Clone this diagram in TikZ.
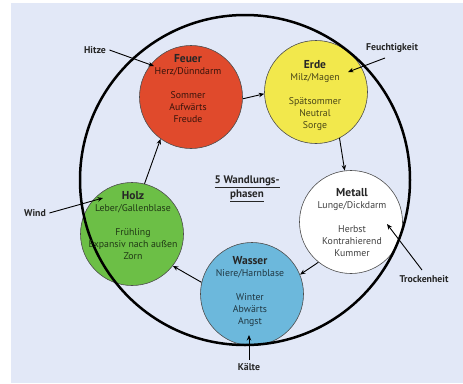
\documentclass[tikz,border=0pt]{standalone}
\usepackage{fontspec}
\setmainfont{PT Sans}
\usetikzlibrary{arrows.meta}
\definecolor{bgc}{HTML}{E2E8F7}
\definecolor{feuerc}{HTML}{E04A2C}
\definecolor{erdec}{HTML}{F2E84C}
\definecolor{wasserc}{HTML}{6CB8DC}
\definecolor{holzc}{HTML}{6CBF46}
\newcommand{\phasetitle}[1]{{\bfseries\fontsize{11.5}{12}\selectfont\color{black!85}#1}}
\begin{document}
\begin{tikzpicture}[x=1pt,y=-1pt,
  phase/.style={circle,draw=black!70,line width=0.6pt,minimum size=103pt,inner sep=0pt},
  ptext/.style={align=center,font=\fontsize{9.8}{12}\selectfont},
  lbl/.style={font=\bfseries\fontsize{9.8}{10}\selectfont,text=black!85},
  arr/.style={line width=0.9pt,-{Stealth[length=5.5pt,width=4.5pt]}}]
\useasboundingbox (0,0) rectangle (463,383);
\fill[bgc] (11,3) rectangle (463,383);
% phase circles
\node[phase,fill=feuerc] (feuer) at (191,97) {};
\node[phase,fill=erdec] (erde) at (316,92) {};
\node[phase,fill=white] (metall) at (351,222) {};
\node[phase,fill=wasserc] (wasser) at (252,294) {};
\node[phase,fill=holzc] (holz) at (132,234) {};
% big circle
\node[circle,draw=black,line width=2.5pt,minimum size=330pt,inner sep=0pt] (big) at (245,180) {};
% texts
\node[ptext,text=feuerc!25!black] (tfeuer) at (188,89) {\phasetitle{Feuer}\\Herz/Dünndarm\\[12pt]Sommer\\Aufwärts\\Freude};
\node[ptext,text=erdec!30!black] (terde) at (315,96) {\phasetitle{Erde}\\Milz/Magen\\[12pt]Spätsommer\\Neutral\\Sorge};
\node[ptext,text=black!75] (tmetall) at (352,223) {\phasetitle{Metall}\\Lunge/Dickdarm\\[12pt]Herbst\\Kontrahierend\\Kummer};
\node[ptext,text=wasserc!30!black] (twasser) at (250,292) {\phasetitle{Wasser}\\Niere/Harnblase\\[12pt]Winter\\Abwärts\\Angst};
\node[ptext,text=holzc!30!black] (tholz) at (133,226) {\phasetitle{Holz}\\Leber/Gallenblase\\[12pt]Frühling\\Expansiv nach außen\\Zorn};
\node[align=center,font=\bfseries\fontsize{11}{14}\selectfont,text=black!85] (center) at (247,189) {\underline{5 Wandlungs-}\\\underline{phasen}};
% cycle arrows
\draw[arr] (feuer.-2) -- (erde.182);
\draw[arr] (erde.-63) -- (metall.97);
\draw[arr] (metall.231) -- (wasser.22);
\draw[arr] (wasser.167) -- (holz.-38);
\draw[arr] (holz.76) -- (feuer.234);
% external influences
\node[lbl] (hitze) at (95,50) {Hitze};
\node[lbl] (feucht) at (392,48) {Feuchtigkeit};
\node[lbl] (trocken) at (424,279) {Trockenheit};
\node[lbl] (kaelte) at (249,367) {Kälte};
\node[lbl] (wind) at (35,213) {Wind};
\coordinate (thitze) at (154,66);
\coordinate (tfeucht) at (348,72);
\coordinate (ttrocken) at (387,224);
\coordinate (tkaelte) at (249,335);
\coordinate (twind) at (103,198);
\coordinate (sfeucht) at (385,58);
\coordinate (strocken) at (422,270);
\draw[arr] (hitze.east) -- (thitze);
\draw[arr] (sfeucht) -- (tfeucht);
\draw[arr] (strocken) -- (ttrocken);
\draw[arr] (kaelte.north) -- (tkaelte);
\draw[arr] (wind.east) -- (twind);
\end{tikzpicture}
\end{document}
